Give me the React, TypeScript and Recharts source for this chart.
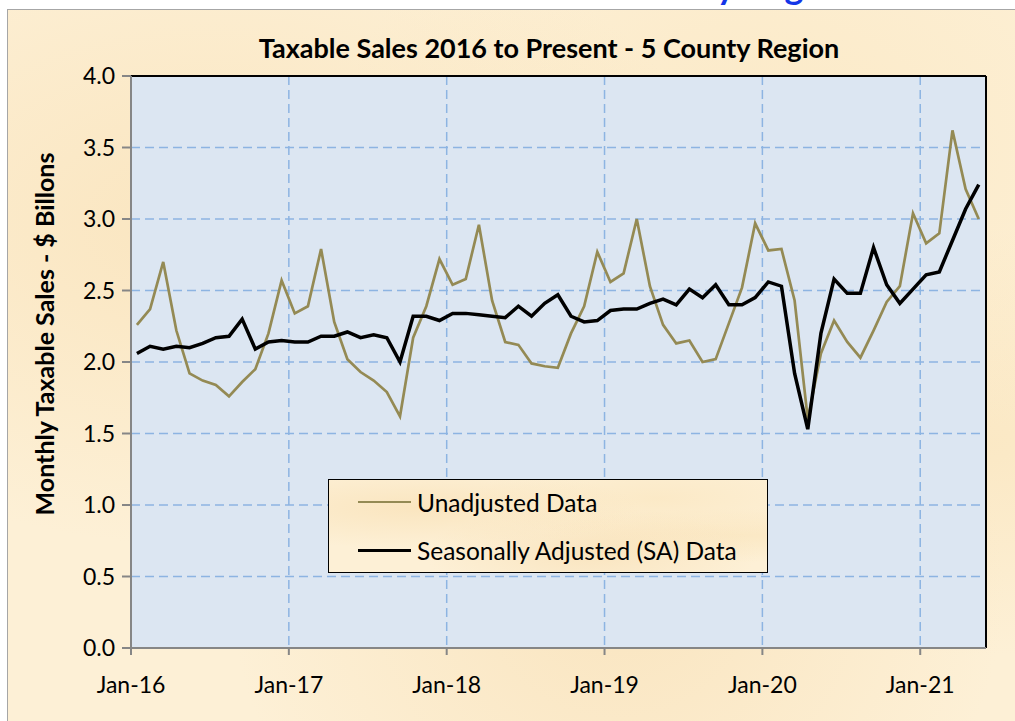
import React from "react";
import {
  LineChart,
  Line,
  XAxis,
  YAxis,
  CartesianGrid,
  Legend,
  ReferenceLine,
} from "recharts";

// Monthly taxable sales, $ billions, Jan-2016 .. May-2021
const unadjusted = [
  2.26, 2.37, 2.7, 2.22, 1.92, 1.87, 1.84, 1.76, 1.86, 1.95, 2.2, 2.57,
  2.34, 2.39, 2.79, 2.28, 2.02, 1.93, 1.87, 1.79, 1.62, 2.17, 2.39, 2.72,
  2.54, 2.58, 2.96, 2.43, 2.14, 2.12, 1.99, 1.97, 1.96, 2.2, 2.39, 2.77,
  2.56, 2.62, 3.0, 2.53, 2.26, 2.13, 2.15, 2.0, 2.02, 2.27, 2.52, 2.97,
  2.78, 2.79, 2.43, 1.6, 2.06, 2.29, 2.14, 2.03, 2.22, 2.42, 2.53, 3.04,
  2.83, 2.9, 3.62, 3.21, 3.0,
];

const seasonallyAdjusted = [
  2.06, 2.11, 2.09, 2.11, 2.1, 2.13, 2.17, 2.18, 2.3, 2.09, 2.14, 2.15,
  2.14, 2.14, 2.18, 2.18, 2.21, 2.17, 2.19, 2.17, 2.0, 2.32, 2.32, 2.29,
  2.34, 2.34, 2.33, 2.32, 2.31, 2.39, 2.32, 2.41, 2.47, 2.32, 2.28, 2.29,
  2.36, 2.37, 2.37, 2.41, 2.44, 2.4, 2.51, 2.45, 2.54, 2.4, 2.4, 2.45,
  2.56, 2.53, 1.92, 1.53, 2.2, 2.58, 2.48, 2.48, 2.8, 2.54, 2.41, 2.51,
  2.61, 2.63, 2.85, 3.07, 3.24,
];

const yearLabels = ["Jan-16", "Jan-17", "Jan-18", "Jan-19", "Jan-20", "Jan-21"];
const yearTicks = [0, 12, 24, 36, 48, 60];
const valueTicks = [0, 0.5, 1, 1.5, 2, 2.5, 3, 3.5, 4];

// points sit mid-month on a date axis
const data = unadjusted.map((u, i) => ({
  t: i + 0.45,
  unadj: u,
  sa: seasonallyAdjusted[i],
}));

const FONT = "Lato, 'Open Sans', sans-serif";
const PARCHMENT =
  "radial-gradient(ellipse at 20% 30%, rgba(248,222,176,0.6), transparent 45%)," +
  "radial-gradient(ellipse at 75% 20%, rgba(250,228,186,0.55), transparent 40%)," +
  "radial-gradient(ellipse at 60% 80%, rgba(247,220,174,0.55), transparent 45%)," +
  "radial-gradient(ellipse at 95% 60%, rgba(249,226,182,0.55), transparent 35%)," +
  "#fdf0d6";

function LegendBox() {
  const rows = [
    { label: "Unadjusted Data", color: "#948a54", w: 2 },
    { label: "Seasonally Adjusted (SA) Data", color: "#000", w: 3 },
  ];
  return (
    <div
      style={{
        width: 440,
        height: 94,
        border: "1.5px solid #000",
        background: PARCHMENT,
        boxSizing: "border-box",
        position: "relative",
        fontFamily: FONT,
      }}
    >
      {rows.map((r, i) => (
        <div
          key={r.label}
          style={{
            position: "absolute",
            left: 29,
            top: 22 + i * 48 - 15,
            height: 30,
            display: "flex",
            alignItems: "center",
          }}
        >
          <div style={{ width: 53, height: r.w, background: r.color, marginRight: 6 }} />
          <span style={{ fontSize: 24.5, color: "#000", whiteSpace: "nowrap" }}>{r.label}</span>
        </div>
      ))}
    </div>
  );
}

export default function App() {
  return (
    <div
      style={{
        position: "fixed",
        left: 0,
        top: 0,
        width: 1015,
        height: 721,
        overflow: "hidden",
        background: "#fff",
      }}
    >
      <svg style={{ position: "absolute", left: 0, top: 0 }} width={1015} height={10}>
        <text x={589} y={-1} fill="#1336e8" fontWeight="bold" fontSize={36} fontFamily={FONT}>
          5 County Region
        </text>
      </svg>
      <div
        style={{
          position: "absolute",
          left: 7,
          top: 9,
          width: 1015,
          height: 720,
          borderLeft: "1px solid #a6a6a6",
          borderTop: "1px solid #a6a6a6",
          background: PARCHMENT,
        }}
      />
      <div
        style={{
          position: "absolute",
          left: 229,
          top: 34,
          width: 640,
          textAlign: "center",
          fontFamily: FONT,
          fontWeight: "bold",
          fontSize: 27,
          lineHeight: 1,
          color: "#000",
          whiteSpace: "nowrap",
        }}
      >
        Taxable Sales 2016 to Present - 5 County Region
      </div>
      <div style={{ position: "absolute", left: 0, top: 0 }}>
        <LineChart
          width={1015}
          height={721}
          data={data}
          margin={{ top: 76, right: 29, left: 71, bottom: 33 }}
        >
          <CartesianGrid
            fill="#dce6f2"
            stroke="#8db4e2"
            strokeWidth={1.5}
            strokeDasharray="9 5"
          />
          <XAxis
            dataKey="t"
            type="number"
            domain={[0, 65]}
            ticks={yearTicks}
            tickFormatter={(v: number) => yearLabels[v / 12]}
            height={40}
            tickSize={7}
            tickMargin={22}
            stroke="#868686"
            strokeWidth={2}
            tick={{ fill: "#000", fontSize: 23, fontFamily: FONT }}
            allowDataOverflow
          />
          <YAxis
            domain={[0, 4]}
            ticks={valueTicks}
            tickFormatter={(v: number) => v.toFixed(1)}
            width={60}
            tickSize={9}
            tickMargin={7}
            stroke="#868686"
            strokeWidth={2}
            tick={{ fill: "#000", fontSize: 23, fontFamily: FONT }}
            label={{
              content: () => (
                <text
                  x={44}
                  y={334}
                  transform="rotate(-90, 44, 334)"
                  textAnchor="middle"
                  dominantBaseline="central"
                  fontWeight="bold"
                  fontSize={25}
                  fontFamily={FONT}
                  fill="#000"
                >
                  Monthly Taxable Sales - $ Billons
                </text>
              ),
            }}
          />
          <ReferenceLine y={4} stroke="#000" strokeWidth={2} />
          <ReferenceLine x={65} stroke="#000" strokeWidth={2} />
          <Line
            dataKey="unadj"
            name="Unadjusted Data"
            stroke="#948a54"
            strokeWidth={2.7}
            dot={false}
            isAnimationActive={false}
          />
          <Line
            dataKey="sa"
            name="Seasonally Adjusted (SA) Data"
            stroke="#000"
            strokeWidth={3.5}
            dot={false}
            isAnimationActive={false}
          />
          <Legend
            layout="vertical"
            verticalAlign="middle"
            align="center"
            content={() => <LegendBox />}
            wrapperStyle={{ left: 328, top: 479, width: 440, height: 94 }}
          />
        </LineChart>
      </div>
    </div>
  );
}
